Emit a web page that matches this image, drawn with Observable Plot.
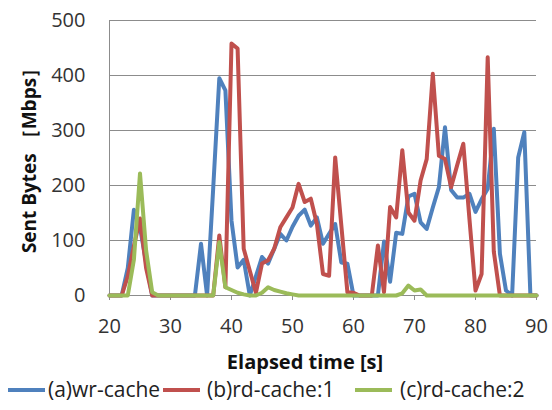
<!DOCTYPE html>
<html>
<head>
<meta charset="utf-8">
<script src="https://cdn.jsdelivr.net/npm/d3@7"></script>
<script src="https://cdn.jsdelivr.net/npm/@observablehq/plot@0.6"></script>
<style>
  body { margin: 0; background: #fff; font-family: "Open Sans", sans-serif; }
  #chart { width: 552px; height: 372px; }
  #legend { position: relative; width: 552px; height: 38px; font-size: 21px; color: #222; }
  .sw { position: absolute; top: 16px; height: 4px; }
  .lt { position: absolute; top: 2px; white-space: nowrap; line-height: 30px; }
</style>
</head>
<body>
<div id="chart"></div>
<div id="legend"></div>
<script>
const seconds = [20,21,22,23,24,25,26,27,28,29,30,31,32,33,34,35,36,37,38,39,40,41,42,43,44,45,46,47,48,49,50,51,52,53,54,55,56,57,58,59,60,61,62,63,64,65,66,67,68,69,70,71,72,73,74,75,76,77,78,79,80,81,82,83,84,85,86,87,88,89,90];

// (a) wr-cache
const wrCache = [0,0,0,50,156,124,60,0,0,0,0,0,0,0,0,94,0,195,395,373,136,51,65,0,35,70,58,85,112,100,125,145,156,127,142,94,112,130,60,58,0,0,0,0,0,98,25,114,112,180,185,133,121,160,197,306,192,178,178,185,152,175,194,303,76,9,0,251,297,0,0];
// (b) rd-cache:1
const rdCache1 = [0,0,0,35,90,140,50,0,0,0,0,0,0,0,0,0,0,0,109,15,458,449,85,45,5,58,64,85,124,142,160,203,170,176,130,39,36,251,128,6,5,0,0,0,91,6,161,142,264,151,136,209,248,403,254,248,197,237,276,140,9,39,433,80,0,0,0,0,0,0,0];
// (c) rd-cache:2
const rdCache2 = [0,0,0,0,65,222,82,6,0,0,0,0,0,0,0,0,0,0,97,15,10,5,2,0,0,5,15,10,7,4,2,0,0,0,0,0,0,0,0,0,0,0,0,0,0,0,0,0,4,18,9,11,0,0,0,0,0,0,0,0,0,0,0,0,0,0,0,0,0,0,0];

const seriesNames = ["(a)wr-cache", "(b)rd-cache:1", "(c)rd-cache:2"];
const seriesColors = ["#4F81BD", "#C0504D", "#9BBB59"];
const xTicks = [20, 30, 40, 50, 60, 70, 80, 90];
const yTicks = [0, 100, 200, 300, 400, 500];
const xTitle = "Elapsed time [s]";
const yTitle = "Sent Bytes ［Mbps］";

const seriesValues = [wrCache, rdCache1, rdCache2];
const rows = [];
seriesValues.forEach((vals, i) => {
  vals.forEach((v, j) => rows.push({t: seconds[j], v: v, s: seriesNames[i]}));
});

const chart = Plot.plot({
  width: 552,
  height: 372,
  marginLeft: 109,
  marginRight: 16,
  marginTop: 20,
  marginBottom: 77,
  style: {fontFamily: '"Open Sans", sans-serif', fontSize: "20px", color: "#333", background: "white", overflow: "visible"},
  x: {domain: [20, 90]},
  y: {domain: [0, 500]},
  color: {domain: seriesNames, range: seriesColors},
  marks: [
    Plot.gridY(yTicks, {stroke: "#8c8c8c", strokeOpacity: 1, strokeWidth: 1}),
    Plot.ruleX([20], {stroke: "#8c8c8c", strokeWidth: 1}),
    Plot.axisX(xTicks, {tickSize: 5, tickPadding: 18, stroke: "#8c8c8c", label: null, fontSize: 20, tickFormat: d => String(d)}),
    Plot.axisY(yTicks, {tickSize: 0, tickPadding: 24, label: null, fontSize: 20, tickFormat: d => String(d)}),
    Plot.line(rows, {x: "t", y: "v", z: "s", stroke: "s", strokeWidth: 4, strokeLinejoin: "round", strokeLinecap: "round"}),
    Plot.text([xTitle], {frameAnchor: "bottom", lineAnchor: "middle", textAnchor: "middle", dx: -18, dy: 67, fontWeight: "bold", fontSize: 20, fill: "#111"}),
    Plot.text([yTitle], {frameAnchor: "left", lineAnchor: "middle", textAnchor: "middle", rotate: -90, dx: -80, dy: -2, fontWeight: "bold", fontSize: 19, fill: "#111"})
  ]
});
document.getElementById("chart").appendChild(chart);

// legend
const legend = document.getElementById("legend");
const swatchX = [8, 163, 355];
const textX = [48, 207, 400];
seriesNames.forEach((name, i) => {
  const sw = document.createElement("div");
  sw.className = "sw";
  sw.style.left = swatchX[i] + "px";
  sw.style.width = "37px";
  sw.style.background = seriesColors[i];
  legend.appendChild(sw);
  const tx = document.createElement("div");
  tx.className = "lt";
  tx.style.left = textX[i] + "px";
  tx.textContent = name;
  legend.appendChild(tx);
});
</script>
</body>
</html>
